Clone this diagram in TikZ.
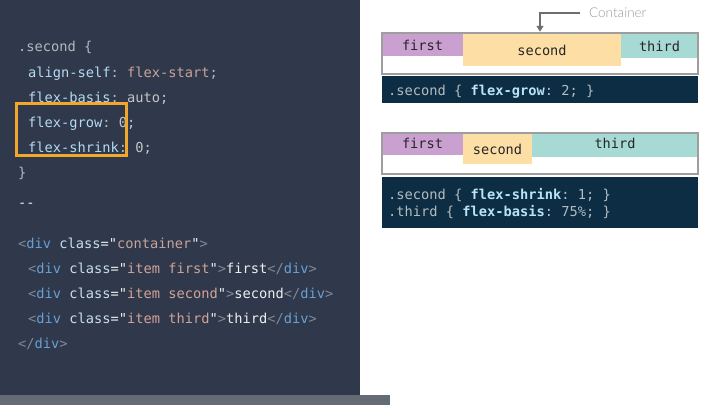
\documentclass[tikz,border=0pt]{standalone}
\usepackage{fontspec}
\setmonofont{DejaVu Sans Mono}
\newfontfamily\lblfont{Lato Light}
\usetikzlibrary{arrows.meta}
\definecolor{bgL}{HTML}{2F394B}
\definecolor{barG}{HTML}{656B74}
\definecolor{pn}{HTML}{B4B9BF}
\definecolor{prop}{HTML}{B5D9F2}
\definecolor{vp}{HTML}{C9A29A}
\definecolor{vg}{HTML}{C4C6C8}
\definecolor{tg}{HTML}{7F8A98}
\definecolor{dv}{HTML}{6A9FD2}
\definecolor{at}{HTML}{C8DEEE}
\definecolor{sp}{HTML}{D3A296}
\definecolor{wt}{HTML}{EEEEEE}
\definecolor{orng}{HTML}{F0A72A}
\definecolor{purp}{HTML}{C9A0D0}
\definecolor{peach}{HTML}{FDDFA6}
\definecolor{teal}{HTML}{A8DAD5}
\definecolor{bord}{HTML}{9E9E9E}
\definecolor{codebg}{HTML}{0C2D44}
\definecolor{cgray}{HTML}{B3BCBE}
\definecolor{cprop}{HTML}{B8E4F5}
\definecolor{arr}{HTML}{6E6E6E}
\definecolor{lblc}{HTML}{9A9A9A}
\newcommand\tk[2]{\textcolor{#1}{#2}}
\tikzset{
  code/.style={anchor=base west, inner sep=0pt, font=\fontsize{13.7}{16}\ttfamily},
  item/.style={anchor=base, inner sep=0pt, text=black!85, font=\fontsize{13.6}{16}\ttfamily},
  cbox/.style={fill=codebg, draw=none},
}
\begin{document}
\begin{tikzpicture}[x=1pt,y=-1pt]
\useasboundingbox (0,0) rectangle (720,405);
% panels
\fill[bgL] (0,0) rectangle (360,395);
\fill[barG] (0,395) rectangle (390,405);
% left code
\node[code] (l1) at (18,51) {\tk{pn}{.second \{}};
\node[code] (l2) at (28,77) {\tk{prop}{align-self}\tk{pn}{:} \tk{vp}{flex-start}\tk{pn}{;}};
\node[code] (l3) at (28,102) {\tk{prop}{flex-basis}\tk{pn}{:} \tk{vg}{auto;}};
\node[code] (l4) at (28,127) {\tk{prop}{flex-grow}\tk{pn}{:} \tk{vg}{0;}};
\node[code] (l5) at (28,152) {\tk{prop}{flex-shrink}\tk{pn}{:} \tk{vg}{0;}};
\node[code] (l6) at (18,177) {\tk{pn}{\}}};
\node[code] (l7) at (18,207) {\tk{wt}{--}};
\node[code] (l8) at (18,248) {\tk{tg}{<}\tk{dv}{div} \tk{at}{class}\tk{wt}{="}\tk{vp}{container}\tk{wt}{"}\tk{tg}{>}};
\node[code] (l9) at (28,273) {\tk{tg}{<}\tk{dv}{div} \tk{at}{class}\tk{wt}{="}\tk{sp}{item first}\tk{wt}{"}\tk{tg}{>}\tk{wt}{first}\tk{tg}{</}\tk{dv}{div}\tk{tg}{>}};
\node[code] (l10) at (28,298) {\tk{tg}{<}\tk{dv}{div} \tk{at}{class}\tk{wt}{="}\tk{sp}{item second}\tk{wt}{"}\tk{tg}{>}\tk{wt}{second}\tk{tg}{</}\tk{dv}{div}\tk{tg}{>}};
\node[code] (l11) at (28,323) {\tk{tg}{<}\tk{dv}{div} \tk{at}{class}\tk{wt}{="}\tk{sp}{item third}\tk{wt}{"}\tk{tg}{>}\tk{wt}{third}\tk{tg}{</}\tk{dv}{div}\tk{tg}{>}};
\node[code] (l12) at (18,348) {\tk{tg}{</}\tk{dv}{div}\tk{tg}{>}};
% highlight
\draw[orng, line width=3pt] (16,103) rectangle (126,155);
% example 1
\fill[purp] (382,33) rectangle (463,56);
\fill[peach] (463,33) rectangle (621,66);
\fill[teal] (621,33) rectangle (698,58);
\node[item] (a1) at (422.5,50) {first};
\node[item] (a2) at (542,55) {second};
\node[item] (a3) at (659.5,51) {third};
\node[draw=bord, line width=2.5pt, minimum width=316pt, minimum height=41pt, inner sep=0pt] (c1) at (540,53.5) {};
\fill[codebg] (382,76) rectangle (698,103);
\node[code] (k1) at (388,95) {\tk{cgray}{.second \{} \tk{cprop}{\bfseries flex-grow}\tk{cgray}{: 2; \}}};
% container label + arrow
\node[anchor=west, inner xsep=9pt, inner ysep=2pt, text=lblc, font=\fontsize{13.5}{15}\lblfont] (lbl) at (580,13) {Container};
\draw[arr, line width=2pt, -{Triangle[length=6pt,width=7pt]}] (lbl.west) -| (c1.north);
% example 2
\fill[purp] (382,133) rectangle (463,155);
\fill[peach] (463,133) rectangle (532,164);
\fill[teal] (532,133) rectangle (698,157);
\node[item] (b1) at (422.5,148) {first};
\node[item] (b2) at (497.5,154) {second};
\node[item] (b3) at (615,148) {third};
\node[draw=bord, line width=2.5pt, minimum width=316pt, minimum height=41pt, inner sep=0pt] (c2) at (540,153.5) {};
\fill[codebg] (382,177) rectangle (698,228);
\node[code] (k2) at (388,199) {\tk{cgray}{.second \{} \tk{cprop}{\bfseries flex-shrink}\tk{cgray}{: 1; \}}};
\node[code] (k3) at (388,216) {\tk{cgray}{.third \{} \tk{cprop}{\bfseries flex-basis}\tk{cgray}{: 75\%; \}}};
\end{tikzpicture}
\end{document}
